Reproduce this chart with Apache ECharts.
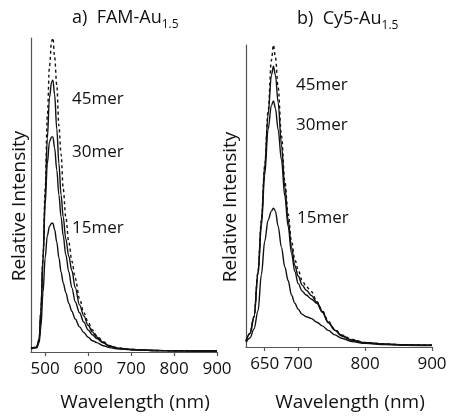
<!DOCTYPE html>
<html>
<head>
<meta charset="utf-8">
<script src="https://cdn.jsdelivr.net/npm/echarts@6/dist/echarts.min.js"></script>
<style>
html,body{margin:0;padding:0;background:#fff;}
#chart{width:451px;height:417px;}
</style>
</head>
<body>
<div id="chart"></div>
<script>
// Panel a) FAM-Au1.5
const wlA = [467, 480, 486, 490, 495, 500, 505, 510, 515, 518, 522, 527, 532, 537, 542, 548, 555, 562, 570, 580, 590, 600, 610, 620, 635, 650, 670, 700, 750, 800, 850, 900];
const famDashed = [0.012, 0.015, 0.04, 0.13, 0.3, 0.52, 0.75, 0.91, 0.99, 1.0, 0.94, 0.85, 0.72, 0.63, 0.52, 0.43, 0.35, 0.29, 0.235, 0.17, 0.125, 0.095, 0.07, 0.052, 0.033, 0.02, 0.013, 0.008, 0.005, 0.004, 0.003, 0.003];
const fam45 = [0.012, 0.015, 0.04, 0.13, 0.3, 0.5, 0.68, 0.81, 0.86, 0.866, 0.82, 0.71, 0.6, 0.5, 0.43, 0.36, 0.305, 0.26, 0.205, 0.15, 0.115, 0.085, 0.064, 0.048, 0.031, 0.019, 0.012, 0.008, 0.005, 0.004, 0.003, 0.003];
const fam30 = [0.012, 0.015, 0.04, 0.13, 0.3, 0.47, 0.6, 0.67, 0.685, 0.685, 0.65, 0.58, 0.5, 0.43, 0.37, 0.31, 0.255, 0.205, 0.16, 0.125, 0.095, 0.07, 0.055, 0.043, 0.029, 0.018, 0.011, 0.008, 0.005, 0.004, 0.003, 0.003];
const fam15 = [0.01, 0.013, 0.03, 0.08, 0.19, 0.3, 0.37, 0.4, 0.41, 0.41, 0.39, 0.35, 0.3, 0.255, 0.22, 0.19, 0.155, 0.13, 0.105, 0.08, 0.062, 0.047, 0.036, 0.03, 0.02, 0.014, 0.01, 0.007, 0.005, 0.004, 0.003, 0.003];
const ticksA = [500, 600, 700, 800, 900];

// Panel b) Cy5-Au1.5
const wlB = [622, 628, 634, 640, 645, 650, 655, 660, 663, 666, 670, 675, 680, 685, 690, 695, 700, 706, 712, 720, 728, 736, 745, 755, 765, 780, 800, 830, 860, 900];
const cyDashed = [0.02, 0.045, 0.1, 0.25, 0.42, 0.6, 0.78, 0.95, 1.0, 0.96, 0.86, 0.7, 0.55, 0.44, 0.35, 0.29, 0.255, 0.22, 0.2, 0.183, 0.15, 0.12, 0.085, 0.058, 0.04, 0.025, 0.015, 0.01, 0.007, 0.006];
const cy45 = [0.02, 0.045, 0.1, 0.25, 0.42, 0.6, 0.77, 0.9, 0.93, 0.9, 0.81, 0.67, 0.53, 0.42, 0.33, 0.27, 0.235, 0.205, 0.188, 0.17, 0.148, 0.118, 0.082, 0.056, 0.038, 0.023, 0.014, 0.009, 0.007, 0.006];
const cy30 = [0.02, 0.045, 0.1, 0.24, 0.4, 0.57, 0.72, 0.8, 0.815, 0.79, 0.72, 0.62, 0.5, 0.4, 0.31, 0.25, 0.21, 0.185, 0.172, 0.158, 0.145, 0.115, 0.08, 0.055, 0.036, 0.022, 0.014, 0.01, 0.007, 0.006];
const cy15 = [0.015, 0.03, 0.06, 0.12, 0.24, 0.35, 0.42, 0.45, 0.46, 0.45, 0.4, 0.33, 0.265, 0.22, 0.172, 0.145, 0.125, 0.108, 0.1, 0.094, 0.082, 0.07, 0.055, 0.04, 0.029, 0.018, 0.012, 0.008, 0.006, 0.005];
const ticksB = [650, 700, 800, 900];

const seriesLabels = ['45mer', '30mer', '15mer'];
const titleA = ['a)  FAM-Au', '1.5'];
const titleB = ['b)  Cy5-Au', '1.5'];
const xName = 'Wavelength (nm)';
const yName = 'Relative Intensity';

const FONT = '"Open Sans", sans-serif';
const INK = '#111';
const AXIS = '#555';

function pairs(xs, ys) { return xs.map((x, i) => [x, ys[i]]); }

function mkX(idx, min, ticks, nameGap) {
  return {
    type: 'value', gridIndex: idx, min: min, max: 900,
    axisLine: { show: true, onZero: false, lineStyle: { color: AXIS, width: 1.2 } },
    axisTick: { show: true, length: 4, inside: false, customValues: ticks, lineStyle: { color: AXIS, width: 1.2 } },
    axisLabel: { show: true, margin: 9, customValues: ticks, color: INK, fontSize: 17, fontFamily: FONT },
    splitLine: { show: false },
    name: xName, nameLocation: 'middle', nameGap: nameGap,
    nameTextStyle: { color: INK, fontSize: 19, fontFamily: FONT, padding: [0, 0, 0, 22] }
  };
}
function mkY(idx, nameGap) {
  return {
    type: 'value', gridIndex: idx, min: 0, max: 1,
    axisLine: { show: true, lineStyle: { color: AXIS, width: 1.2 } },
    axisTick: { show: false }, axisLabel: { show: false }, splitLine: { show: false },
    name: yName, nameLocation: 'middle', nameGap: nameGap,
    nameTextStyle: { color: INK, fontSize: 19, fontFamily: FONT, padding: [0, 22, 0, 0] }
  };
}
function mkS(idx, xs, ys, dashed) {
  return {
    type: 'line', xAxisIndex: idx, yAxisIndex: idx, data: pairs(xs, ys),
    showSymbol: false, smooth: 0.35, smoothMonotone: 'x', silent: true,
    lineStyle: { color: INK, width: 1.4, type: dashed ? [3, 3] : 'solid' }
  };
}
function lbl(x, y, t) {
  return { type: 'text', left: x, top: y - 11, style: { text: t, fill: INK, font: '17px ' + FONT } };
}
function ttl(x, y, parts) {
  return {
    type: 'text', left: x, top: y - 13,
    style: {
      text: '{t|' + parts[0] + '}{s|' + parts[1] + '}',
      rich: {
        t: { fontSize: 18, lineHeight: 26, fontFamily: FONT, fill: INK, color: INK, verticalAlign: 'middle' },
        s: { fontSize: 12, lineHeight: 12, fontFamily: FONT, fill: INK, color: INK, verticalAlign: 'bottom' }
      }
    }
  };
}

const chart = echarts.init(document.getElementById('chart'), null, { renderer: 'canvas' });
chart.setOption({
  animation: false,
  backgroundColor: '#fff',
  grid: [
    { left: 31, right: 234, top: 38, bottom: 65 },
    { left: 246, right: 19, top: 45, bottom: 65 }
  ],
  xAxis: [mkX(0, 467, ticksA, 41), mkX(1, 622, ticksB, 46)],
  yAxis: [mkY(0, 2), mkY(1, 6)],
  series: [
    mkS(0, wlA, famDashed, true), mkS(0, wlA, fam45, false), mkS(0, wlA, fam30, false), mkS(0, wlA, fam15, false),
    mkS(1, wlB, cyDashed, true), mkS(1, wlB, cy45, false), mkS(1, wlB, cy30, false), mkS(1, wlB, cy15, false)
  ],
  graphic: [
    ttl(72, 22, titleA), ttl(297, 23, titleB),
    lbl(72, 102, seriesLabels[0]), lbl(72, 155, seriesLabels[1]), lbl(72, 231, seriesLabels[2]),
    lbl(296, 88, seriesLabels[0]), lbl(296, 128, seriesLabels[1]), lbl(297, 221, seriesLabels[2])
  ]
});
</script>
</body>
</html>
